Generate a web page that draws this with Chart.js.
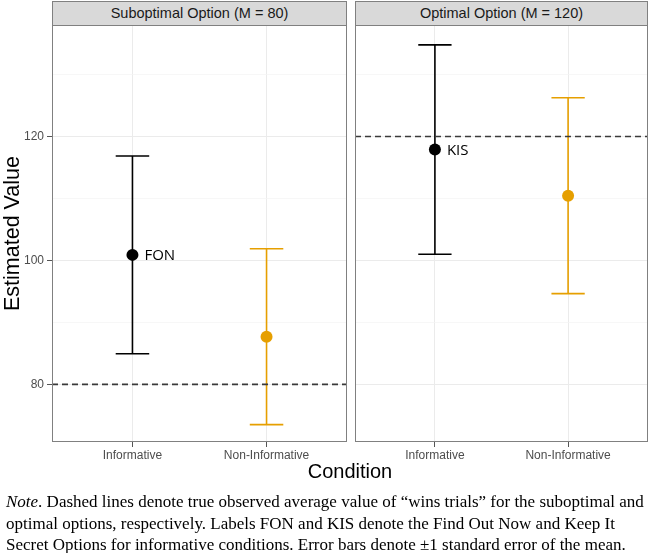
<!DOCTYPE html>
<html>
<head>
<meta charset="utf-8">
<script src="https://cdn.jsdelivr.net/npm/chart.js@4.4.1/dist/chart.umd.min.js"></script>
<style>
  body { margin: 0; background: #fff; }
  #wrap { position: relative; width: 650px; height: 553px; overflow: hidden; font-family: "Liberation Sans", Arial, sans-serif; }
  canvas { position: absolute; top: 25px; }
  .strip { position: absolute; top: 1px; height: 25px; box-sizing: border-box; background: #d9d9d9; border: 1px solid #808080;
           font-size: 14.5px; color: #1a1a1a; text-align: center; line-height: 23px; }
  #xtitle { position: absolute; left: 52px; width: 596px; top: 460px; text-align: center; font-size: 20px; color: #000; }
  #note { position: absolute; left: 6px; top: 491px; width: 650px; font-family: "Liberation Serif", "Times New Roman", serif;
          font-size: 17px; line-height: 21.5px; color: #000; white-space: nowrap; }
</style>
</head>
<body>
<div id="wrap">
  <div class="strip" id="strip0" style="left:52px;width:295px;"></div>
  <div class="strip" id="strip1" style="left:355px;width:293px;"></div>
  <canvas id="panel0" width="349" height="450" style="left:0px;"></canvas>
  <canvas id="panel1" width="295" height="450" style="left:355px;"></canvas>
  <div id="xtitle">Condition</div>
  <div id="note"><i>Note</i>. Dashed lines denote true observed average value of “wins trials” for the suboptimal and<br>optimal options, respectively. Labels FON and KIS denote the Find Out Now and Keep It<br>Secret Options for informative conditions. Error bars denote ±1 standard error of the mean.</div>
</div>
<script>
// data
const conditions = ["Informative", "Non-Informative"];
const panelTitles = ["Suboptimal Option (M = 80)", "Optimal Option (M = 120)"];
const trueValues = [80, 120];            // dashed reference lines
const subMeans = [100.9, 87.7];
const subSE = [15.95, 14.2];
const optMeans = [117.9, 110.45];
const optSE = [16.9, 15.8];
const pointLabels = [["FON", ""], ["KIS", ""]];
const yTicks = [80, 100, 120];

const condColors = ["#000000", "#E69F00"];
const yMin = 70.7, yMax = 138.0;
const capWidth = 0.25;

const panels = [
  { means: subMeans, se: subSE },
  { means: optMeans, se: optSE }
];

function noPad(s) {
  s.paddingLeft = 0; s.paddingRight = 0; s.paddingTop = 0; s.paddingBottom = 0;
}

const facetPlugin = {
  id: "facet",
  beforeDatasetsDraw(chart) {
    const p = chart.options.plugins.facet;
    const x = chart.scales.x, y = chart.scales.y;
    const ctx = chart.ctx;
    const area = chart.chartArea;
    ctx.save();
    // error bars
    ctx.lineWidth = 1.6;
    p.means.forEach((m, i) => {
      const px = x.getPixelForValue(i + 1);
      const hw = x.getPixelForValue(i + 1 + capWidth / 2) - px;
      const yHi = y.getPixelForValue(m + p.se[i]);
      const yLo = y.getPixelForValue(m - p.se[i]);
      ctx.strokeStyle = condColors[i];
      ctx.beginPath();
      ctx.moveTo(px, yHi); ctx.lineTo(px, yLo);
      ctx.moveTo(px - hw, yHi); ctx.lineTo(px + hw, yHi);
      ctx.moveTo(px - hw, yLo); ctx.lineTo(px + hw, yLo);
      ctx.stroke();
    });
    // dashed true-value line
    const yr = y.getPixelForValue(p.ref);
    ctx.strokeStyle = "#3a3a3a";
    ctx.lineWidth = 1.6;
    ctx.setLineDash([6, 4]);
    ctx.beginPath();
    ctx.moveTo(area.left, yr); ctx.lineTo(area.right, yr);
    ctx.stroke();
    ctx.restore();
  },
  afterDatasetsDraw(chart) {
    const p = chart.options.plugins.facet;
    const x = chart.scales.x, y = chart.scales.y;
    const ctx = chart.ctx;
    ctx.save();
    ctx.font = '15px "Open Sans"';
    ctx.fillStyle = "#000";
    ctx.textAlign = "left";
    ctx.textBaseline = "middle";
    p.labels.forEach((lab, i) => {
      if (!lab) return;
      ctx.fillText(lab, x.getPixelForValue(i + 1) + 12, y.getPixelForValue(p.means[i]) + 1);
    });
    ctx.restore();
  },
  afterDraw(chart) {
    const a = chart.chartArea, ctx = chart.ctx;
    ctx.save();
    ctx.strokeStyle = "#808080";
    ctx.lineWidth = 1;
    ctx.strokeRect(Math.round(a.left) + 0.5, Math.round(a.top) + 0.5,
      Math.round(a.right - a.left) - 1, Math.round(a.bottom - a.top) - 1);
    ctx.restore();
  }
};

function buildPanel(k) {
  document.getElementById("strip" + k).textContent = panelTitles[k];
  const showY = k === 0;
  const ctx = document.getElementById("panel" + k).getContext("2d");
  return new Chart(ctx, {
    type: "scatter",
    data: {
      datasets: [{
        data: panels[k].means.map((m, i) => ({ x: i + 1, y: m })),
        pointBackgroundColor: condColors,
        pointBorderWidth: 0,
        pointRadius: 6,
        pointHoverRadius: 6
      }]
    },
    options: {
      responsive: false,
      animation: false,
      devicePixelRatio: 1,
      events: [],
      layout: { autoPadding: false, padding: { left: 0, right: 2, top: 0, bottom: 0 } },
      plugins: {
        legend: { display: false },
        tooltip: { enabled: false },
        facet: { means: panels[k].means, se: panels[k].se, ref: trueValues[k], labels: pointLabels[k] }
      },
      scales: {
        x: {
          type: "linear",
          min: 0.4,
          max: 2.6,
          afterBuildTicks: s => { s.ticks = conditions.map((c, i) => ({ value: i + 1 })); },
          afterFit: s => { s.height = 33; noPad(s); },
          ticks: {
            callback: v => conditions[v - 1],
            color: "#4d4d4d",
            font: { family: "Liberation Sans", size: 12 },
            padding: 1,
            maxRotation: 0,
            autoSkip: false
          },
          grid: { color: "#ebebeb", lineWidth: 1, tickLength: 5, tickColor: "#555", tickWidth: 1 },
          border: { display: false }
        },
        y: {
          min: yMin,
          max: yMax,
          afterFit: s => { s.width = showY ? 52 : 0; noPad(s); },
          ticks: {
            display: showY,
            stepSize: 10,
            includeBounds: false,
            callback: v => yTicks.includes(v) ? v : "",
            color: "#4d4d4d",
            font: { family: "Liberation Sans", size: 12 },
            padding: 3
          },
          grid: {
            drawTicks: showY,
            tickLength: 5,
            color: c => yTicks.includes(c.tick.value) ? "#ebebeb" : "#f3f3f3",
            lineWidth: c => yTicks.includes(c.tick.value) ? 1 : 0.7,
            tickColor: c => yTicks.includes(c.tick.value) ? "#555" : "rgba(0,0,0,0)",
            tickWidth: 1
          },
          border: { display: false },
          title: {
            display: showY,
            text: "Estimated Value",
            color: "#000",
            font: { family: "Liberation Sans", size: 21.5 },
            padding: { top: 0, bottom: 0 }
          }
        }
      }
    },
    plugins: [facetPlugin]
  });
}

buildPanel(0);
buildPanel(1);
</script>
</body>
</html>
